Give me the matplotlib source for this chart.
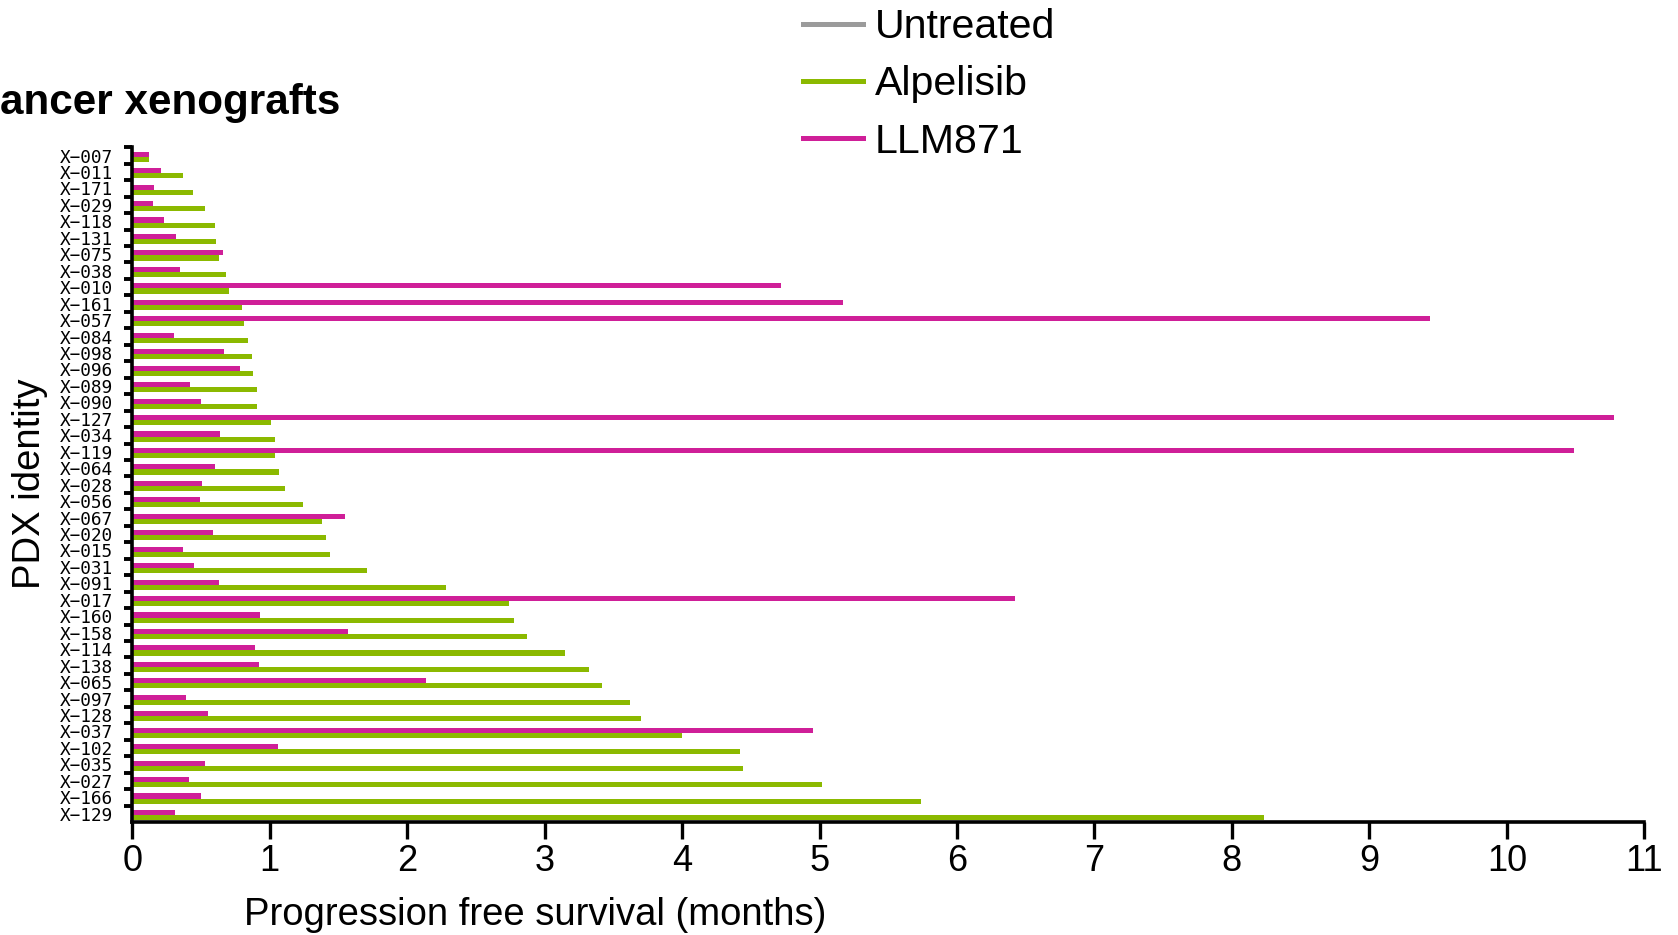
import matplotlib
matplotlib.use("Agg")
import matplotlib.pyplot as plt
import numpy as np
from matplotlib.lines import Line2D

# PDX models, top to bottom as in the figure
pdx_ids = ["X-007", "X-011", "X-171", "X-029", "X-118", "X-131", "X-075", "X-038",
           "X-010", "X-161", "X-057", "X-084", "X-098", "X-096", "X-089", "X-090",
           "X-127", "X-034", "X-119", "X-064", "X-028", "X-056", "X-067", "X-020",
           "X-015", "X-031", "X-091", "X-017", "X-160", "X-158", "X-114", "X-138",
           "X-065", "X-097", "X-128", "X-037", "X-102", "X-035", "X-027", "X-166",
           "X-129"]

# progression free survival (months)
alpelisib = [0.12, 0.37, 0.44, 0.53, 0.60, 0.61, 0.63, 0.68,
             0.70, 0.80, 0.81, 0.84, 0.87, 0.88, 0.91, 0.91,
             1.01, 1.04, 1.04, 1.07, 1.11, 1.24, 1.38, 1.41,
             1.44, 1.71, 2.28, 2.74, 2.78, 2.87, 3.15, 3.32,
             3.42, 3.62, 3.70, 4.00, 4.42, 4.44, 5.02, 5.74,
             8.23]
llm871 = [0.12, 0.21, 0.16, 0.15, 0.23, 0.32, 0.66, 0.35,
          4.72, 5.17, 9.44, 0.30, 0.67, 0.78, 0.42, 0.50,
          10.78, 0.64, 10.49, 0.60, 0.51, 0.49, 1.55, 0.59,
          0.37, 0.45, 0.63, 6.42, 0.93, 1.57, 0.89, 0.92,
          2.14, 0.39, 0.55, 4.95, 1.06, 0.53, 0.41, 0.50,
          0.31]

legend_labels = ["Untreated", "Alpelisib", "LLM871"]
col_untreated = "#9b9b9b"
col_alp = "#8bb900"
col_llm = "#cf1f98"

W, H = 1678, 935
fig = plt.figure(figsize=(W / 100, H / 100), dpi=100)
ax = fig.add_axes([132.3 / W, (H - 822) / H, (1644.3 - 132.3) / W, (822 - 147.3) / H])

y = np.arange(len(pdx_ids))
bh = 0.31
ax.barh(y - 0.08, llm871, height=bh, color=col_llm, edgecolor="none")
ax.barh(y + 0.23, alpelisib, height=bh, color=col_alp, edgecolor="none")

ax.set_xlim(0, 11)
ax.set_ylim(len(pdx_ids) - 0.5, -0.5)

for s in ["top", "right"]:
    ax.spines[s].set_visible(False)
for s in ["left", "bottom"]:
    ax.spines[s].set_linewidth(2.6)

ax.set_xticks(range(0, 12))
ax.set_xticklabels([str(v) for v in range(0, 12)], family="Liberation Sans", fontsize=26)
ax.tick_params(axis="x", length=12, width=2.4, pad=4)

ax.set_yticks(y)
ax.set_yticklabels([p.replace("-", "\u2212") for p in pdx_ids],
                   family="DejaVu Sans Mono", fontsize=12.8)
ax.tick_params(axis="y", which="major", length=0, pad=14)
ax.set_yticks(np.arange(-0.5, len(pdx_ids) - 0.5, 1), minor=True)
ax.tick_params(axis="y", which="minor", length=6, width=2.8)

fig.text(535 / W, 1 - 915 / H, "Progression free survival (months)",
         family="Liberation Sans", fontsize=27.5, ha="center", va="center")
fig.text(30 / W, 1 - 484 / H, "PDX identity", family="Liberation Sans",
         fontsize=27.5, rotation=90, ha="center", va="center")
fig.text(0, 1 - 103 / H, "ancer xenografts", family="Liberation Sans",
         fontweight="bold", fontsize=30.4, ha="left", va="center")

handles = [Line2D([], [], color=c, lw=3.6) for c in [col_untreated, col_alp, col_llm]]
fig.legend(handles, legend_labels, loc="upper left", bbox_to_anchor=(803 / W, 1 - 8 / H),
           frameon=False, borderpad=0, borderaxespad=0, handlelength=1.46,
           handletextpad=0.29, labelspacing=0.47,
           prop={"family": "Liberation Sans", "size": 29.6})

fig.savefig("out.png", dpi=100)
